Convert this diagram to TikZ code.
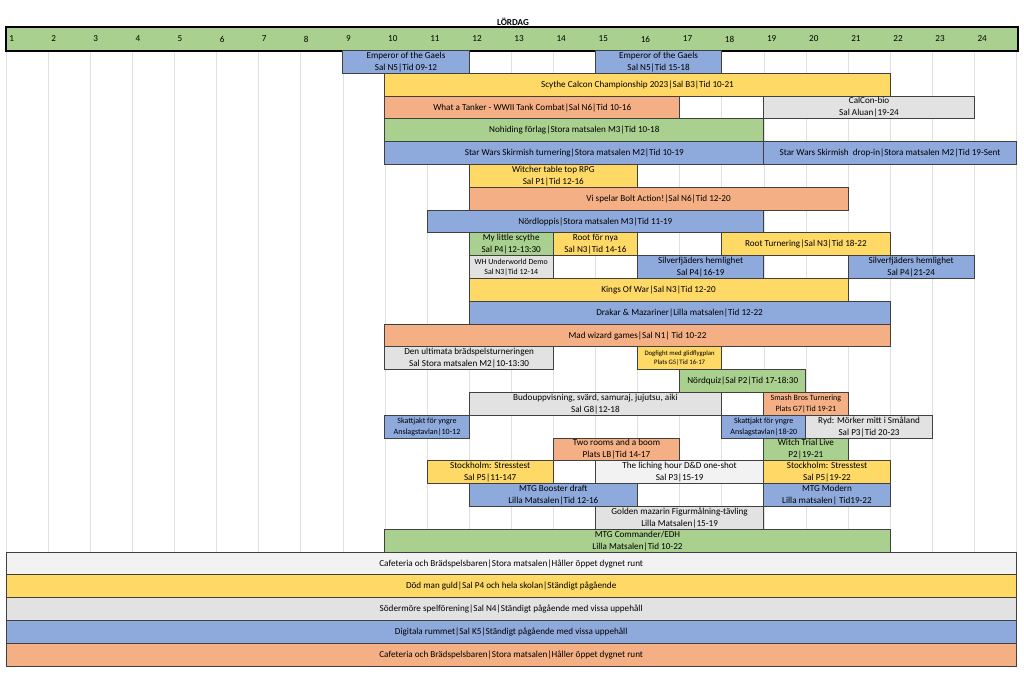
\documentclass[tikz,border=0pt]{standalone}
\usepackage{fontspec}
\setmainfont{Carlito}
\definecolor{evgreen}{HTML}{A9D08E}
\definecolor{evblue}{HTML}{8EA9DB}
\definecolor{evyellow}{HTML}{FFD966}
\definecolor{evorange}{HTML}{F4B084}
\definecolor{evgrey}{HTML}{E2E2E2}
\definecolor{evlight}{HTML}{F2F2F2}
\tikzset{
  event/.style={draw=black!75, line width=0.6pt, inner sep=0pt, align=center, minimum height=0.57cm},
  gridline/.style={draw=black!12, line width=0.4pt},
  hour/.style={anchor=west, inner sep=0pt, font=\fontsize{6.5}{8}\selectfont},
}
\begin{document}
\begin{tikzpicture}[x=0.025cm, y=-0.025cm]
    \useasboundingbox (0,0) rectangle (1024,680);
    \foreach \h in {1,...,25}
       \draw[gridline] ({6+(\h-1)*42.1},51) -- ({6+(\h-1)*42.1},552);
    \node[font=\bfseries\fontsize{6.5}{8}\selectfont] (title) at (513,22) {LÖRDAG};
    \node[draw=black, line width=1.6pt, fill=evgreen, minimum width=25.3cm, minimum height=0.6cm] (head) at (512,39) {};
    \foreach \h in {1,...,24}
       \node[hour] (h\h) at ({6+(\h-1)*42.1+3},39) {\h};
    \foreach \r/\s/\e/\c/\fs/\t [count=\i] in {
       1/9/12/evblue/6.5/{Emperor of the Gaels\\Sal N5|Tid 09-12},
       1/15/18/evblue/6.5/{Emperor of the Gaels\\Sal N5|Tid 15-18},
       2/10/22/evyellow/6.5/{Scythe Calcon Championship 2023|Sal B3|Tid 10-21},
       3/10/17/evorange/6.5/{What a Tanker - WWII Tank Combat|Sal N6|Tid 10-16},
       3/19/24/evgrey/6.5/{CalCon-bio\\Sal Aluan|19-24},
       4/10/19/evgreen/6.5/{Nohiding förlag|Stora matsalen M3|Tid 10-18},
       5/10/19/evblue/6.5/{Star Wars Skirmish turnering|Stora matsalen M2|Tid 10-19},
       5/19/25/evblue/6.5/{Star Wars Skirmish~ drop-in|Stora matsalen M2|Tid 19-Sent},
       6/12/16/evyellow/6.5/{Witcher table top RPG\\Sal P1|Tid 12-16},
       7/12/21/evorange/6.5/{Vi spelar Bolt Action!|Sal N6|Tid 12-20},
       8/11/19/evblue/6.5/{Nördloppis|Stora matsalen M3|Tid 11-19},
       9/12/14/evgreen/6.5/{My little scythe\\Sal P4|12-13:30},
       9/14/16/evyellow/6.5/{Root för nya\\Sal N3|Tid 14-16},
       9/18/22/evyellow/6.5/{Root Turnering|Sal N3|Tid 18-22},
       10/12/14/evgrey/5.6/{WH Underworld Demo\\Sal N3|Tid 12-14},
       10/16/19/evblue/6.5/{Silverfjäders hemlighet\\Sal P4|16-19},
       10/21/24/evblue/6.5/{Silverfjäders hemlighet\\Sal P4|21-24},
       11/12/21/evyellow/6.5/{Kings Of War|Sal N3|Tid 12-20},
       12/12/22/evblue/6.5/{Drakar \& Mazariner|Lilla matsalen|Tid 12-22},
       13/10/22/evorange/6.5/{Mad wizard games|Sal N1| Tid 10-22},
       14/10/14/evgrey/6.5/{Den ultimata brädspelsturneringen\\Sal Stora matsalen M2|10-13:30},
       14/16/18/evyellow/4.8/{Dogfight med glidflygplan\\Plats G5|Tid 16-17},
       15/17/20/evgreen/6.5/{Nördquiz|Sal P2|Tid 17-18:30},
       16/12/18/evgrey/6.5/{Budouppvisning, svärd, samuraj, jujutsu, aiki\\Sal G8|12-18},
       16/19/21/evorange/5.7/{Smash Bros Turnering\\Plats G7|Tid 19-21},
       17/10/12/evblue/5.7/{Skattjakt för yngre\\Anslagstavlan|10-12},
       17/18/20/evblue/5.7/{Skattjakt för yngre\\Anslagstavlan|18-20},
       17/20/23/evgrey/6.5/{Ryd: Mörker mitt i Småland\\Sal P3|Tid 20-23},
       18/14/17/evorange/6.5/{Two rooms and a boom\\Plats LB|Tid 14-17},
       18/19/21/evgreen/6.5/{Witch Trial Live\\P2|19-21},
       19/11/14/evyellow/6.5/{Stockholm: Stresstest\\Sal P5|11-147},
       19/15/19/evlight/6.5/{The liching hour D\&D one-shot\\Sal P3|15-19},
       19/19/22/evyellow/6.5/{Stockholm: Stresstest\\Sal P5|19-22},
       20/12/16/evblue/6.5/{MTG Booster draft\\Lilla Matsalen|Tid 12-16},
       20/19/22/evblue/6.5/{MTG Modern\\Lilla matsalen| Tid19-22},
       21/15/19/evgrey/6.5/{Golden mazarin Figurmålning-tävling\\Lilla Matsalen|15-19},
       22/10/22/evgreen/6.5/{MTG Commander/EDH\\Lilla Matsalen|Tid 10-22},
       23/1/25/evlight/6.5/{Cafeteria och Brädspelsbaren|Stora matsalen|Håller öppet dygnet runt},
       24/1/25/evyellow/6.5/{Död man guld|Sal P4 och hela skolan|Ständigt pågående},
       25/1/25/evgrey/6.5/{Södermöre spelförening|Sal N4|Ständigt pågående med vissa uppehåll},
       26/1/25/evblue/6.5/{Digitala rummet|Sal K5|Ständigt pågående med vissa uppehåll},
       27/1/25/evorange/6.5/{Cafeteria och Brädspelsbaren|Stora matsalen|Håller öppet dygnet runt}} {
       \pgfmathsetmacro\xa{6+(\s-1)*42.1}
       \pgfmathsetmacro\xb{6+(\e-1)*42.1}
       \pgfmathsetmacro\w{(\xb-\xa)*0.025}
       \pgfmathsetmacro\lh{\fs*1.3}
       \node[event, fill=\c, minimum width=\w cm, font=\fontsize{\fs}{\lh}\selectfont] (ev\i) at ({(\xa+\xb)/2},{50.5+(\r-1)*22.8+11.4}) {\t};
    }
\end{tikzpicture}
\end{document}
